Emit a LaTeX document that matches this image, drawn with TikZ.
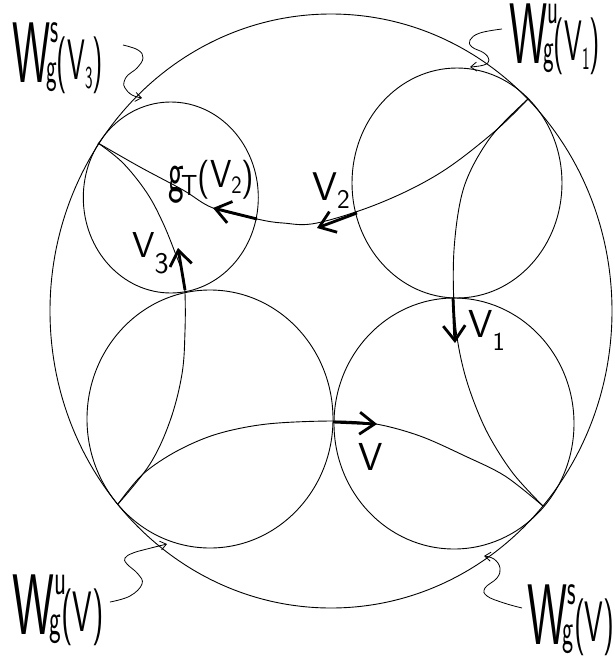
\documentclass[tikz,border=0pt]{standalone}
\usepackage{graphicx}
\usetikzlibrary{arrows.meta}
\newcommand{\fs}[1]{\fontsize{#1}{#1}\selectfont}
% big manifold label: W with superscript #1, subscript g, then (V#2)
\newcommand{\wlab}[2]{{\fs{86}W}\rlap{\raisebox{40pt}{\fs{45}#1}}\kern-8pt{\fs{45}g}\raisebox{3pt}{\fs{57}(V#2)}}
\begin{document}
\begin{tikzpicture}[x=1pt,y=-1pt,
  thinline/.style={line width=0.9pt},
  vec/.style={line width=2.8pt,-{Straight Barb[length=15pt,width=22pt]}},
  squig/.style={line width=0.8pt,-{Straight Barb[length=6pt,width=9pt]}},
  biglab/.style={inner sep=0pt,anchor=base west,font=\sffamily,xscale=0.5},
  veclab/.style={inner sep=0pt,anchor=base west,font=\sffamily\fs{39}}]
\useasboundingbox (0,0) rectangle (614,662);
% tangency points on the boundary circle
\coordinate (P1) at (528,99);
\coordinate (P3) at (98,143);
\coordinate (PL) at (118,504);
\coordinate (PR) at (543,506);
% boundary and horocycles
\draw[thinline] (331,311) ellipse [x radius=281, y radius=297];
\draw[thinline] (170.8,197.5) ellipse [x radius=87.5, y radius=95.5];
\draw[thinline] (457,183) ellipse [x radius=105, y radius=115];
\draw[thinline] (454,423.5) ellipse [x radius=120, y radius=125.5];
\draw[thinline] (210,419) ellipse [x radius=123, y radius=129];
% geodesics
\draw[thinline] plot[smooth,tension=0.6] coordinates {(528,99) (494,132) (440,173) (380,203) (317,223) (283,223) (257,219) (213,208) (183,190) (140,167) (98,143)};
\draw[thinline] plot[smooth,tension=0.55] coordinates {(528,99) (490,138) (464,187) (454,250) (455,320) (465,375) (485,428) (512,472) (543,506)};
\draw[thinline] plot[smooth,tension=0.6] coordinates {(98,143) (123,163) (147,193) (163,223) (176,255) (183,275) (185,293) (185,331) (182,374) (170,421) (150,464) (118,504)};
\draw[thinline] plot[smooth,tension=0.55] coordinates {(118,504) (143,474) (177,451) (217,434) (267,424) (333,421) (376,424) (420,436) (465,456) (505,476) (543,506)};
% tangent vectors
\coordinate (a2) at (357,213); \coordinate (b2) at (317,228);
\coordinate (ag) at (257,219); \coordinate (bg) at (213,208);
\coordinate (a3) at (185,290); \coordinate (b3) at (178,248);
\coordinate (a1) at (453,298); \coordinate (b1) at (455,343);
\coordinate (a0) at (333,422); \coordinate (b0) at (377,424);
\draw[vec] (a2) -- (b2);
\draw[vec] (ag) -- (bg);
\draw[vec] (a3) -- (b3);
\draw[vec] (a1) -- (b1);
\draw[vec] (a0) -- (b0);
% vector labels
\node[veclab,font=\sffamily\fs{40}] (l2) at (312,200) {V\raisebox{-8pt}{\fs{27}2}};
\node[veclab,xscale=0.88] (lg) at (168,187) {\raisebox{-4pt}{\fs{58}\scalebox{0.65}[1]{g}}\kern-3pt\raisebox{-8pt}{\fs{29}T}\raisebox{-2pt}{(}V\raisebox{-6pt}{\fs{25}2}\raisebox{-2pt}{)}};
\node[veclab,font=\sffamily\fs{36}] (l3) at (132,257) {V\raisebox{-16pt}{\fs{30}3}};
\node[veclab] (l1) at (468,337) {V\raisebox{-13pt}{\fs{26}1}};
\node[veclab] (l0) at (358,470) {V};
% manifold labels
\node[biglab] (Ws3) at (12,82) {\wlab{s}{\raisebox{-9pt}{\fs{32}3}}};
\node[biglab] (Wu1) at (509,63) {\wlab{u}{\raisebox{-9pt}{\fs{32}1}}};
\node[biglab,xscale=1.1] (Wu0) at (12,634) {\wlab{u}{}};
\node[biglab,xscale=1.05] (Ws0) at (527,644) {\wlab{s}{}};
% squiggly pointers
\draw[squig] plot[smooth,tension=0.7] coordinates {(123,45) (138,50) (143,58) (137,68) (128,75) (124,82) (125,88) (132,95) (142,98)};
\draw[squig] plot[smooth,tension=0.7] coordinates {(502,29) (480,33) (470,40) (472,47) (484,53) (489,60) (484,65) (470,67)};
\draw[squig] plot[smooth,tension=0.7] coordinates {(110,602) (130,596) (142,584) (138,574) (127,564) (125,558) (133,553) (147,549) (167,544)};
\draw[squig] plot[smooth,tension=0.7] coordinates {(522,608) (504,603) (487,596) (485,588) (497,578) (500,568) (494,559) (484,556)};
\end{tikzpicture}
\end{document}
